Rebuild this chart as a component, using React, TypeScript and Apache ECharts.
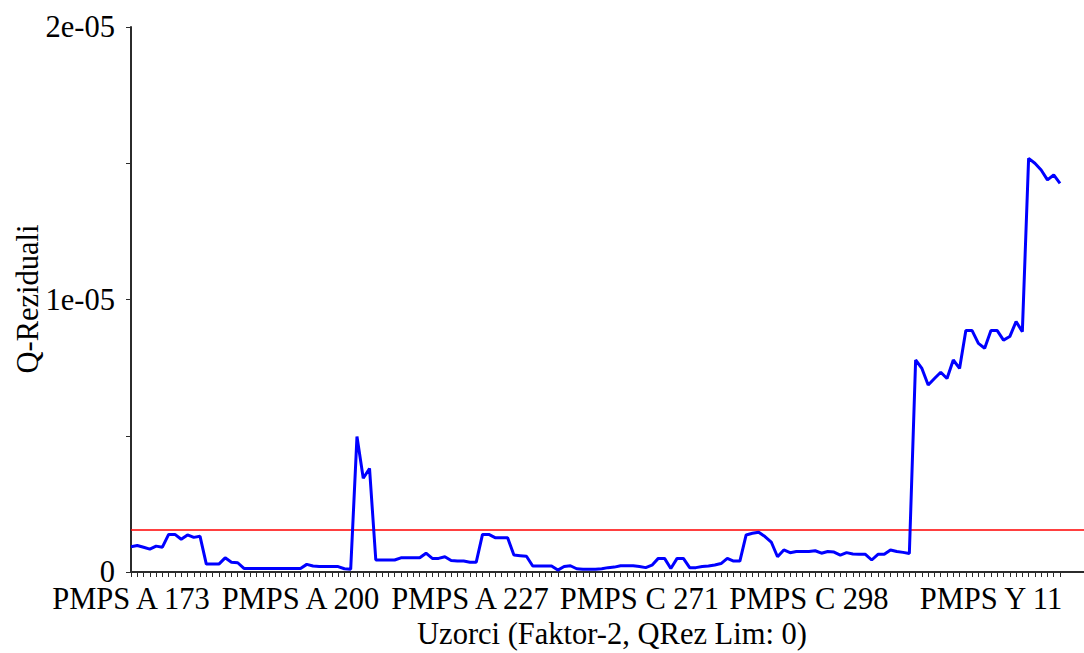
import React, { useEffect, useRef } from "react";
import * as echarts from "echarts";

// Q residuals per sample (index = sample order)
const qResiduals: number[] = [
  0.93e-6, 0.97e-6, 0.91e-6, 0.84e-6, 0.95e-6, 0.91e-6, 1.38e-6, 1.38e-6, 1.2e-6, 1.36e-6,
  1.27e-6, 1.31e-6, 0.29e-6, 0.29e-6, 0.29e-6, 0.52e-6, 0.36e-6, 0.34e-6, 0.13e-6, 0.13e-6,
  0.13e-6, 0.13e-6, 0.13e-6, 0.13e-6, 0.13e-6, 0.13e-6, 0.13e-6, 0.13e-6, 0.28e-6, 0.22e-6,
  0.2e-6, 0.2e-6, 0.2e-6, 0.2e-6, 0.12e-6, 0.1e-6, 4.97e-6, 3.44e-6, 3.8e-6, 0.44e-6,
  0.44e-6, 0.44e-6, 0.44e-6, 0.52e-6, 0.52e-6, 0.52e-6, 0.52e-6, 0.69e-6, 0.5e-6, 0.5e-6,
  0.56e-6, 0.42e-6, 0.4e-6, 0.4e-6, 0.36e-6, 0.36e-6, 1.38e-6, 1.38e-6, 1.26e-6, 1.26e-6,
  1.26e-6, 0.62e-6, 0.6e-6, 0.58e-6, 0.22e-6, 0.22e-6, 0.22e-6, 0.22e-6, 0.07e-6, 0.2e-6,
  0.23e-6, 0.12e-6, 0.1e-6, 0.1e-6, 0.1e-6, 0.12e-6, 0.16e-6, 0.18e-6, 0.23e-6, 0.23e-6,
  0.23e-6, 0.2e-6, 0.16e-6, 0.25e-6, 0.5e-6, 0.5e-6, 0.13e-6, 0.5e-6, 0.5e-6, 0.16e-6,
  0.16e-6, 0.2e-6, 0.22e-6, 0.26e-6, 0.31e-6, 0.5e-6, 0.4e-6, 0.4e-6, 1.36e-6, 1.42e-6,
  1.46e-6, 1.3e-6, 1.1e-6, 0.56e-6, 0.81e-6, 0.71e-6, 0.75e-6, 0.75e-6, 0.75e-6, 0.78e-6,
  0.69e-6, 0.75e-6, 0.73e-6, 0.62e-6, 0.71e-6, 0.66e-6, 0.65e-6, 0.65e-6, 0.44e-6, 0.65e-6,
  0.65e-6, 0.81e-6, 0.75e-6, 0.72e-6, 0.68e-6, 7.78e-6, 7.47e-6, 6.86e-6, 7.1e-6, 7.33e-6,
  7.1e-6, 7.78e-6, 7.47e-6, 8.86e-6, 8.86e-6, 8.39e-6, 8.21e-6, 8.86e-6, 8.86e-6, 8.51e-6,
  8.64e-6, 9.19e-6, 8.82e-6, 15.18e-6, 15.0e-6, 14.75e-6, 14.39e-6, 14.57e-6, 14.26e-6,
];

const sampleLabels: string[] = [
  "PMPS A 173",
  "PMPS A 200",
  "PMPS A 227",
  "PMPS C 271",
  "PMPS C 298",
  "PMPS Y 11",
];
const sampleLabelIndex: number[] = [0, 27, 54, 81, 108, 137];

const qLimit = 1.54e-6;

const yTickValues: number[] = [0, 0.5e-5, 1e-5, 1.5e-5, 2e-5];
const yLabelValues: number[] = [0, 1e-5, 2e-5];

const xTitle = "Uzorci (Faktor-2, QRez Lim: 0)";
const yTitle = "Q-Reziduali";

const FONT = "Liberation Serif";
const FONT_SIZE = 30.5;
const AXIS_COLOR = "#2b2b2b";

function formatSci(v: number): string {
  if (v === 0) return "0";
  const e = Math.floor(Math.log10(Math.abs(v)) + 1e-9);
  const m = Math.round((v / Math.pow(10, e)) * 100) / 100;
  const sign = e < 0 ? "-" : "+";
  return `${m}e${sign}${String(Math.abs(e)).padStart(2, "0")}`;
}

export default function App() {
  const ref = useRef<HTMLDivElement>(null);

  useEffect(() => {
    document.body.style.margin = "0";
    if (!ref.current) return;
    const chart = echarts.init(ref.current, undefined, { renderer: "svg" });

    const lastIndex = qResiduals.length - 1;
    const gridLeft = 131;
    const gridRight = 0;
    const lastX = 1060;
    const xMax = (lastIndex * (1084 - gridLeft - gridRight)) / (lastX - gridLeft);

    chart.setOption({
      animation: false,
      backgroundColor: "#ffffff",
      textStyle: { fontFamily: FONT },
      grid: {
        left: gridLeft,
        right: gridRight,
        top: 27,
        bottom: 81,
        containLabel: false,
        outerBoundsMode: "none",
      },
      xAxis: {
        type: "value",
        min: 0,
        max: xMax,
        axisLine: { show: true, onZero: false, lineStyle: { color: AXIS_COLOR, width: 2 } },
        axisTick: {
          show: true,
          length: 5,
          customValues: qResiduals.map((_, i) => i),
          lineStyle: { color: AXIS_COLOR, width: 1 },
        },
        axisLabel: {
          show: true,
          customValues: sampleLabelIndex,
          formatter: (v: number) => {
            const k = sampleLabelIndex.indexOf(Math.round(v));
            return k >= 0 ? sampleLabels[k] : "";
          },
          color: "#000000",
          fontFamily: FONT,
          fontSize: FONT_SIZE,
          margin: 11,
        },
        splitLine: { show: false },
      },
      yAxis: {
        type: "value",
        min: 0,
        max: 2e-5,
        axisLine: { show: true, onZero: false, lineStyle: { color: AXIS_COLOR, width: 2 } },
        axisTick: {
          show: true,
          length: 5,
          customValues: yTickValues,
          lineStyle: { color: AXIS_COLOR, width: 1 },
        },
        axisLabel: {
          show: true,
          customValues: yLabelValues,
          formatter: (v: number) => formatSci(v),
          color: "#000000",
          fontFamily: FONT,
          fontSize: FONT_SIZE,
          margin: 16,
        },
        splitLine: { show: false },
      },
      series: [
        {
          name: "Q limit",
          type: "line",
          data: [
            [0, qLimit],
            [xMax, qLimit],
          ],
          symbol: "none",
          showSymbol: false,
          silent: true,
          lineStyle: { color: "#ff0000", width: 1.5 },
          emphasis: { disabled: true },
          z: 2,
        },
        {
          name: "Q residuals",
          type: "line",
          data: qResiduals.map((v, i) => [i, v]),
          symbol: "none",
          showSymbol: false,
          lineStyle: { color: "#0000ff", width: 3 },
          emphasis: { disabled: true },
          z: 3,
        },
      ],
      graphic: [
        {
          type: "text",
          x: 612,
          y: 634,
          style: {
            text: xTitle,
            fontFamily: FONT,
            fontSize: FONT_SIZE,
            fill: "#000000",
            align: "center",
            verticalAlign: "middle",
          },
        },
        {
          type: "text",
          x: 28,
          y: 299,
          rotation: Math.PI / 2,
          style: {
            text: yTitle,
            fontFamily: FONT,
            fontSize: FONT_SIZE,
            fill: "#000000",
            align: "center",
            verticalAlign: "middle",
          },
        },
      ],
    });

    return () => {
      chart.dispose();
    };
  }, []);

  return (
    <div
      ref={ref}
      style={{ position: "absolute", left: 0, top: 0, width: 1084, height: 653 }}
    />
  );
}
